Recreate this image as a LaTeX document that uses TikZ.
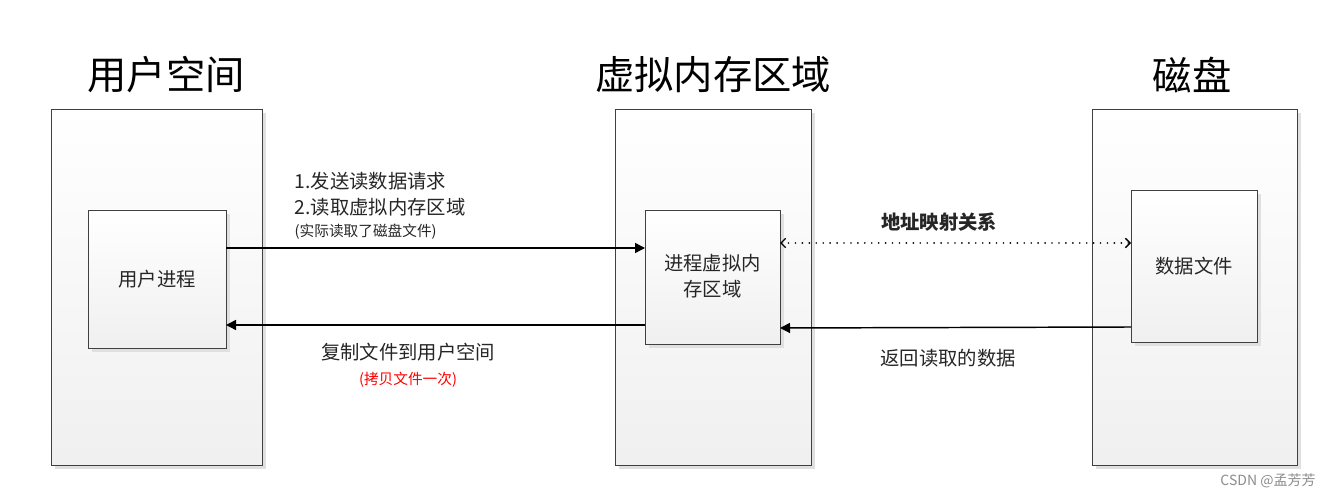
\documentclass[tikz,border=0pt]{standalone}
\usepackage{fontspec}
\setmainfont{Liberation Serif}
\newfontfamily\cjk{Noto Sans CJK SC}
\usetikzlibrary{arrows.meta,shadows}
\begin{document}
\begin{tikzpicture}[x=0.75pt,y=-0.75pt,
  panel/.style={draw=black!75,line width=0.6pt,top color=white,bottom color=black!6,
    drop shadow={shadow xshift=3pt,shadow yshift=-3pt,fill=black!12,opacity=1}},
  lbl/.style={font=\cjk\fontsize{14.5}{19.5}\selectfont,text=black!85},
  small/.style={font=\cjk\fontsize{11}{13}\selectfont,text=black!85},
  ttl/.style={font=\cjk\fontsize{29.5}{34}\selectfont},
  conn/.style={line width=1.1pt,-{Triangle[length=7.5pt,width=7.5pt]}}]
\useasboundingbox (0,0) rectangle (1335,498);
\fill[white] (0,0) rectangle (1335,498);
% outer panels
\path[panel] (51,109) rectangle (262,465);
\path[panel] (615,109) rectangle (811,465);
\path[panel] (1092,109) rectangle (1297,465);
% titles
\node[ttl] (t1) at (166,75) {用户空间};
\node[ttl] (t2) at (713,75) {虚拟内存区域};
\node[ttl] (t3) at (1192,75) {磁盘};
% inner boxes
\path[panel] (88,210) rectangle (226,348);
\node[lbl] (up) at (157,279) {用户进程};
\coordinate (upa) at (226,248);
\coordinate (upb) at (226,325);
\path[panel] (645,210) rectangle (780,344);
\node[lbl,align=center] (vm) at (712.5,276) {进程虚拟内\\存区域};
\coordinate (vma) at (645,248);
\coordinate (vmb) at (645,325);
\coordinate (vmc) at (780,243);
\coordinate (vmd) at (780,328);
\path[panel] (1131,190) rectangle (1257,342);
\node[lbl] (df) at (1194,266) {数据文件};
\coordinate (dfa) at (1131,243);
\coordinate (dfb) at (1131,327);
% connectors
\draw[conn] (upa) -- (vma);
\draw[conn] (vmb) -- (upb);
\draw[conn] (dfb) -- (vmd);
\draw[line width=1.4pt,line cap=round,dash pattern=on 0pt off 5.2pt,{Straight Barb[length=3.5pt,width=7pt,line width=1pt]}-{Straight Barb[length=3.5pt,width=7pt,line width=1pt]}] (vmc) -- (dfa);
% labels
\node[lbl,anchor=west] (l1) at (290,181) {1.发送读数据请求};
\node[lbl,anchor=west] (l2) at (290,207) {2.读取虚拟内存区域};
\node[small,anchor=west] (l3) at (290,232) {(实际读取了磁盘文件)};
\node[lbl] (l4) at (408,352) {复制文件到用户空间};
\node[small,text=red] (l5) at (408,380) {(拷贝文件一次)};
\node[lbl,font=\cjk\bfseries\fontsize{14.5}{19.5}\selectfont] (l6) at (939,222) {地址映射关系};
\node[lbl] (l7) at (948,358) {返回读取的数据};
\node[font=\fontsize{10.5}{12}\selectfont\cjk,text=black!45] (wm) at (1268,481) {CSDN @孟芳芳};
\end{tikzpicture}
\end{document}
